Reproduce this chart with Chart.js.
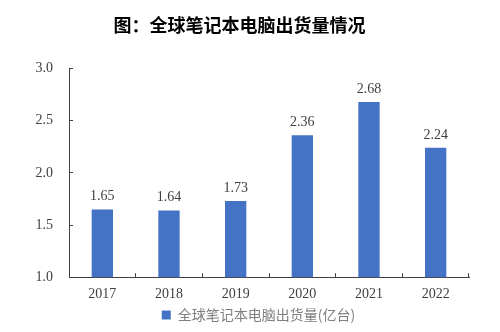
<!DOCTYPE html>
<html>
<head>
<meta charset="utf-8">
<script src="https://cdn.jsdelivr.net/npm/chart.js@4"></script>
<style>
  html, body { margin: 0; padding: 0; background: #fff; }
  #wrap { width: 500px; height: 332px; }
</style>
</head>
<body>
<div id="wrap"><canvas id="shipChart" width="500" height="332"></canvas></div>
<script>
const years = ["2017", "2018", "2019", "2020", "2021", "2022"];
const shipments = [1.65, 1.64, 1.73, 2.36, 2.68, 2.24];
const yTicks = [1.0, 1.5, 2.0, 2.5, 3.0];

const serif = "'Liberation Serif', 'Times New Roman', serif";
const cjk = "'Noto Sans CJK SC', sans-serif";

// value labels above each bar
const barLabels = {
  id: "barLabels",
  afterDatasetsDraw(chart) {
    const ctx = chart.ctx;
    const meta = chart.getDatasetMeta(0);
    ctx.save();
    ctx.font = "14px " + serif;
    ctx.fillStyle = "#404040";
    ctx.textAlign = "center";
    ctx.textBaseline = "bottom";
    meta.data.forEach((bar, i) => {
      ctx.fillText(shipments[i].toFixed(2), bar.x, bar.y - 6);
    });
    ctx.restore();
  },
};

// nudge the title and legend a little to the right
const blockShift = {
  id: "blockShift",
  afterLayout(chart) {
    chart.legend.left += 24;
    chart.legend.right += 24;
    chart.titleBlock.left += 5;
    chart.titleBlock.right += 5;
  },
};

const ctxShip = document.getElementById("shipChart").getContext("2d");
const shipChart = new Chart(ctxShip, {
  type: "bar",
  data: {
    labels: years,
    datasets: [
      {
        label: "全球笔记本电脑出货量(亿台)",
        data: shipments,
        backgroundColor: "#4472C4",
        categoryPercentage: 1,
        barPercentage: 0.32,
      },
    ],
  },
  options: {
    responsive: false,
    animation: false,
    layout: { padding: { left: 0, right: 31, top: 6, bottom: 0 } },
    scales: {
      x: {
        afterFit(scale) {
          scale.height -= 9;
        },
        grid: {
          offset: true,
          drawOnChartArea: false,
          drawTicks: true,
          tickLength: -4,
          color: "#404040",
        },
        border: { color: "#404040", width: 1 },
        ticks: {
          color: "#404040",
          font: { family: serif, size: 14 },
          padding: 13,
        },
      },
      y: {
        min: 1,
        max: 3,
        afterBuildTicks(scale) {
          scale.ticks = yTicks.map((v) => ({ value: v }));
        },
        afterFit(scale) {
          scale.width = 69;
        },
        grid: {
          drawOnChartArea: false,
          drawTicks: true,
          tickLength: -4,
          color: "#404040",
        },
        border: { color: "#404040", width: 1 },
        ticks: {
          color: "#404040",
          font: { family: serif, size: 14 },
          padding: 20,
          callback: (v) => Number(v).toFixed(1),
        },
      },
    },
    plugins: {
      title: {
        display: true,
        text: "图：全球笔记本电脑出货量情况",
        color: "#000",
        font: { family: cjk, size: 18, weight: "bold" },
        padding: { top: 8, bottom: 33 },
      },
      legend: {
        display: true,
        position: "bottom",
        labels: {
          boxWidth: 9,
          boxHeight: 9,
          color: "#7f7f7f",
          font: { family: cjk, size: 14 },
          padding: 1,
        },
      },
      tooltip: { enabled: false },
    },
  },
  plugins: [barLabels, blockShift],
});
</script>
</body>
</html>
